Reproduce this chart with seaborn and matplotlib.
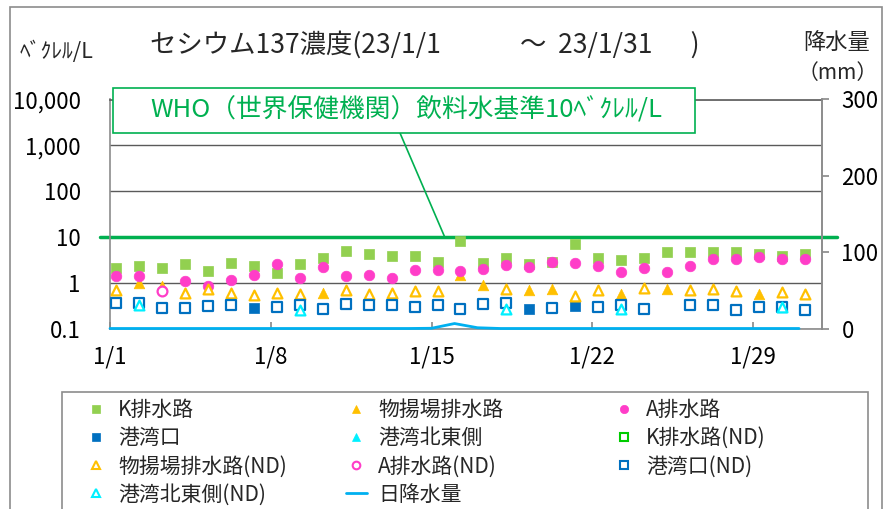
import numpy as np
import pandas as pd
import seaborn as sns
import matplotlib.pyplot as plt
from matplotlib.lines import Line2D
from matplotlib.patches import Rectangle

sns.set_theme(style="white")
plt.rcParams["font.family"] = ["Noto Sans CJK JP", "DejaVu Sans"]

# --- data (Bq/L, day of January 2023) ---
days = list(range(1, 32))
k_drain = [2.1, 2.3, 2.1, 2.5, 1.76, 2.65, 2.3, 1.6, 2.5, 3.5, 5.0, 4.2, 3.9, 3.9, 2.9, 8.2,
           2.7, 3.45, 2.6, 2.9, 7.0, 3.45, 3.2, 3.5, 4.6, 4.6, 4.6, 4.6, 4.2, 3.9, 4.2]

buyo_days = [2, 3, 10, 16, 17, 19, 20, 23, 25, 29]
buyo_vals = [1.0, 0.83, 0.6, 1.5, 0.9, 0.7, 0.72, 0.58, 0.72, 0.58]

a_days = [1, 2, 4, 5, 6, 7, 8, 9, 10, 11, 12, 13, 14, 15, 16, 17, 18, 19, 20, 21, 22, 23, 24,
          25, 26, 27, 28, 29, 30, 31]
a_vals = [1.37, 1.37, 1.1, 0.83, 1.14, 1.45, 2.6, 1.28, 2.2, 1.42, 1.47, 1.28, 1.92, 1.92, 1.82,
          1.98, 2.38, 2.2, 2.9, 2.7, 2.26, 1.71, 2.1, 1.71, 2.26, 3.3, 3.3, 3.6, 3.35, 3.3]

port_days = [7, 19, 21]
port_vals = [0.28, 0.27, 0.31]

ne_days = []
ne_vals = []

k_nd_days = []
k_nd_vals = []

buyo_nd_days = [1, 4, 5, 6, 7, 8, 9, 11, 12, 13, 14, 15, 18, 21, 22, 24, 26, 27, 28, 30, 31]
buyo_nd_vals = [0.68, 0.6, 0.73, 0.6, 0.55, 0.6, 0.57, 0.7, 0.58, 0.6, 0.67, 0.65, 0.72, 0.52,
                0.68, 0.77, 0.7, 0.72, 0.67, 0.64, 0.58]

a_nd_days = [3]
a_nd_vals = [0.65]

port_nd_days = [1, 2, 3, 4, 5, 6, 8, 9, 10, 11, 12, 13, 14, 15, 16, 17, 18, 20, 22, 23, 24, 26,
                27, 28, 29, 30, 31]
port_nd_vals = [0.36, 0.36, 0.28, 0.28, 0.31, 0.33, 0.3, 0.33, 0.26, 0.35, 0.33, 0.33, 0.3, 0.32,
                0.27, 0.35, 0.36, 0.28, 0.3, 0.33, 0.27, 0.33, 0.33, 0.25, 0.3, 0.3, 0.25]

ne_nd_days = [2, 9, 18, 23, 30]
ne_nd_vals = [0.32, 0.25, 0.26, 0.27, 0.3]

rain_mm = [0, 0, 0, 0, 0, 0, 0, 0, 0, 0, 0, 0, 0, 0, 0.3, 6.5, 1.0, 0, 0, 0, 0, 0, 0, 0, 0, 0,
           0, 0, 0, 0, 0]

tick_days = [1, 8, 15, 22, 29]
tick_labels = ["1/1", "1/8", "1/15", "1/22", "1/29"]

K_GREEN = "#92D050"
ND_GREEN = "#00CC00"
ORANGE = "#FFC000"
PINK = "#FF3DC8"
BLUE = "#0070C0"
CYAN = "#00F0FF"
RAIN = "#00B0F0"
WHO = "#00B050"
GRID = "#5a5a5a"
SPINE = "#8c8c8c"

SAMPLE_OFFSET = 0.26  # samples are taken in the morning

W, H = 885, 509
fig = plt.figure(figsize=(W / 100, H / 100), dpi=100)
ax = fig.add_axes([110 / W, 1 - 328.5 / H, 712 / W, 229 / H])
ax2 = ax.twinx()

ax.set_yscale("log")
ax.set_ylim(0.1, 10000)
ax.set_xlim(1, 32)

# series: (label, days, values, marker, colour, open?)
series = [
    ("K排水路", days, k_drain, "s", K_GREEN, False),
    ("物揚場排水路", buyo_days, buyo_vals, "^", ORANGE, False),
    ("A排水路", a_days, a_vals, "o", PINK, False),
    ("港湾口", port_days, port_vals, "s", BLUE, False),
    ("港湾北東側", ne_days, ne_vals, "^", CYAN, False),
    ("K排水路(ND)", k_nd_days, k_nd_vals, "s", ND_GREEN, True),
    ("物揚場排水路(ND)", buyo_nd_days, buyo_nd_vals, "^", ORANGE, True),
    ("A排水路(ND)", a_nd_days, a_nd_vals, "o", PINK, True),
    ("港湾口(ND)", port_nd_days, port_nd_vals, "s", BLUE, True),
    ("港湾北東側(ND)", ne_nd_days, ne_nd_vals, "^", CYAN, True),
]

handles = {}
for i, (label, d, v, mk, col, is_open) in enumerate(series):
    if len(d):
        df = pd.DataFrame({"x": np.array(d) + SAMPLE_OFFSET, "y": v})
        if is_open:
            sns.scatterplot(data=df, x="x", y="y", marker=mk, s=50, color="white",
                            edgecolor=col, linewidth=1.6, ax=ax, zorder=3 + i)
        else:
            sns.scatterplot(data=df, x="x", y="y", marker=mk, s=58, color=col,
                            edgecolor=col, linewidth=0.5, ax=ax, zorder=3 + i)
    handles[label] = Line2D([], [], ls="", marker=mk, ms=6 if not is_open else 5.5,
                            mfc="white" if is_open else col, mec=col,
                            mew=1.5 if is_open else 0.5)

# WHO guideline line
ax.axhline(10, xmin=-10 / 712, xmax=1 + 15 / 712, color=WHO, lw=2.5, clip_on=False, zorder=2)

# rainfall on the right axis
rain_df = pd.DataFrame({"day": days, "rain": rain_mm})
sns.lineplot(data=rain_df, x="day", y="rain", ax=ax2, color=RAIN, lw=2, clip_on=False, zorder=5)
handles["日降水量"] = Line2D([], [], color=RAIN, lw=2)
ax2.set_ylim(0, 300)
ax2.set_yticks([0, 100, 200, 300])
ax2.set_ylabel("")

# axes styling
ax.set_xlabel("")
ax.set_ylabel("")
ax.set_yticks([0.1, 1, 10, 100, 1000, 10000])
ax.set_yticklabels(["0.1", "1", "10", "100", "1,000", "10,000"])
ax.minorticks_off()
ax.set_xticks(tick_days)
ax.set_xticklabels(tick_labels)
ax.grid(axis="y", color=GRID, lw=1)
ax.tick_params(axis="y", length=0, pad=21, labelsize=16, labelcolor="black")
ax.tick_params(axis="x", direction="in", length=5, color=SPINE, pad=12, labelsize=16,
               labelcolor="black", bottom=True)
ax2.tick_params(axis="y", direction="out", length=5, color=SPINE, pad=9, labelsize=16,
                labelcolor="black", right=True)
for a in (ax, ax2):
    for sp in a.spines.values():
        sp.set_color(SPINE)
        sp.set_linewidth(1.2)
ax.spines["top"].set_color(GRID)
for side in ("bottom", "left", "top"):
    ax2.spines[side].set_visible(False)

# annotation box + leader line
box_l, box_t, box_r, box_b = 113, 88, 695, 133
fig.patches.append(Rectangle((box_l / W, 1 - box_b / H), (box_r - box_l) / W, (box_b - box_t) / H,
                             transform=fig.transFigure, facecolor="white", edgecolor=WHO,
                             lw=1.2, zorder=5))
fig.text((box_l + box_r) / 2 / W + 0.003, 1 - (box_t + box_b) / 2 / H,
         "WHO（世界保健機関）飲料水基準10ﾍﾞｸﾚﾙ/L", color=WHO, fontsize=18.5,
         ha="center", va="center", zorder=6)
ax.annotate("", xy=(15.57, 10), xycoords="data", xytext=(400 / W, 1 - box_b / H),
            textcoords="figure fraction",
            arrowprops=dict(arrowstyle="-", color=WHO, lw=1.2, shrinkA=0, shrinkB=0))

# titles
fig.text(150 / W, 1 - 45 / H, "セシウム137濃度(23/1/1　　　～  23/1/31　  )", fontsize=19,
         ha="left", va="center")
fig.text(20 / W, 1 - 52 / H, "ﾍﾞｸﾚﾙ/L", fontsize=15.5, ha="left", va="center")
fig.text(837 / W, 1 - 42 / H, "降水量", fontsize=16, ha="center", va="center")
fig.text(838 / W, 1 - 73 / H, "（mm）", fontsize=15, ha="center", va="center")

# legend: three equal-width columns, like the spreadsheet legend
columns = [
    ["K排水路", "港湾口", "物揚場排水路(ND)", "港湾北東側(ND)"],
    ["物揚場排水路", "港湾北東側", "A排水路(ND)", "日降水量"],
    ["A排水路", "K排水路(ND)", "港湾口(ND)"],
]
col_x = [86, 346, 614]
for names, x0 in zip(columns, col_x):
    fig.legend([handles[k] for k in names], names, loc="upper left",
               bbox_to_anchor=(x0 / W, 1 - 399 / H), fontsize=15, frameon=False,
               handlelength=1.0, handletextpad=0.55, labelspacing=0.3, borderpad=0,
               borderaxespad=0)
fig.patches.append(Rectangle((62 / W, -0.05), 806 / W, 0.05 + 1 - 392 / H,
                             transform=fig.transFigure, fill=False, edgecolor=SPINE,
                             lw=1.2, zorder=1))

# outer chart frame
fig.patches.append(Rectangle((10 / W, -0.05), 872 / W, 1.05 - 7 / H, transform=fig.transFigure,
                             fill=False, edgecolor=SPINE, lw=1.2, zorder=0))

fig.savefig("out.png", dpi=100)
